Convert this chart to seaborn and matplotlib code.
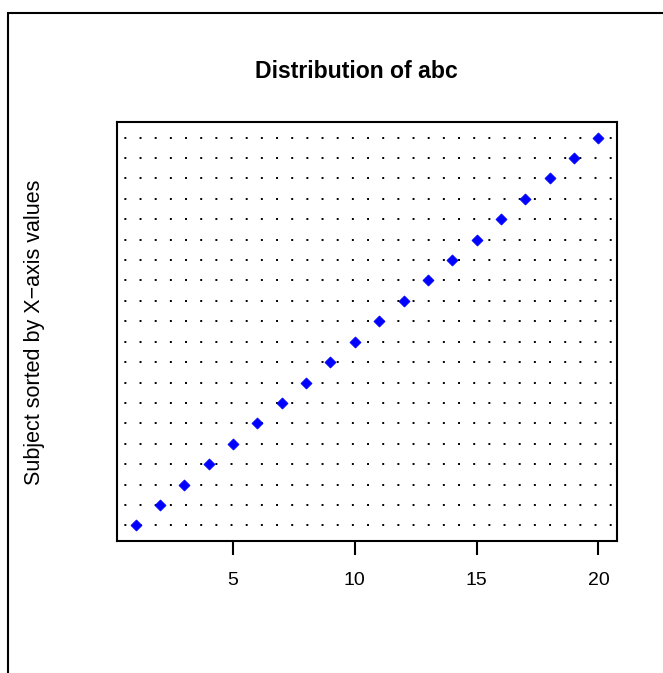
import matplotlib
matplotlib.use("Agg")
import matplotlib.pyplot as plt
import matplotlib.patches as patches
import seaborn as sns
import pandas as pd

# data: x values, sorted subjects
values = [1, 2, 3, 4, 5, 6, 7, 8, 9, 10, 11, 12, 13, 14, 15, 16, 17, 18, 19, 20]
subjects = [1, 2, 3, 4, 5, 6, 7, 8, 9, 10, 11, 12, 13, 14, 15, 16, 17, 18, 19, 20]
xticks = [5, 10, 15, 20]

df = pd.DataFrame({"value": values, "subject": subjects})

sns.set_style("white")
plt.rcParams["font.family"] = ["Liberation Sans", "DejaVu Sans"]
plt.rcParams["text.color"] = "black"

fig = plt.figure(figsize=(6.63, 6.73), dpi=100)
ax = fig.add_axes([117 / 663, 1 - 541 / 673, 500 / 663, 419 / 673])

# dotted guide lines for each row
for s in subjects:
    ax.axhline(s, color="black", lw=1.4, linestyle=(4, (1, 6.8)), zorder=1)

sns.scatterplot(data=df, x="value", y="subject", marker="D", s=32,
                color="#0000ff", edgecolor="#0000ff", linewidth=0.5, ax=ax, zorder=3)

ax.set_xlim(0.24, 20.76)
ax.set_ylim(0.24, 20.76)
ax.set_xticks(xticks)
ax.set_yticks([])
ax.set_xlabel("")
ax.set_ylabel("")
ax.tick_params(axis="x", bottom=True, length=10, width=1.5, pad=12,
               labelsize=14, color="black", labelcolor="black")
for sp in ax.spines.values():
    sp.set_color("black")
    sp.set_linewidth(1.5)

fig.text(356 / 663, 1 - 72 / 673, "Distribution of abc", ha="center", va="center",
         fontsize=16.6, fontweight="bold", color="black")
fig.text(35 / 663, 1 - 332 / 673, "Subject sorted by X\u2212axis values", ha="center",
         va="center", rotation=90, fontsize=15.5, color="black")

# outer frame (runs off the right and bottom edges)
frame = patches.Rectangle((8 / 663, -0.2), 1.2, 1.2 - 13 / 673, transform=fig.transFigure,
                          fill=False, edgecolor="black", lw=1.5, clip_on=False)
fig.patches.append(frame)

fig.savefig("out.png", dpi=100)
